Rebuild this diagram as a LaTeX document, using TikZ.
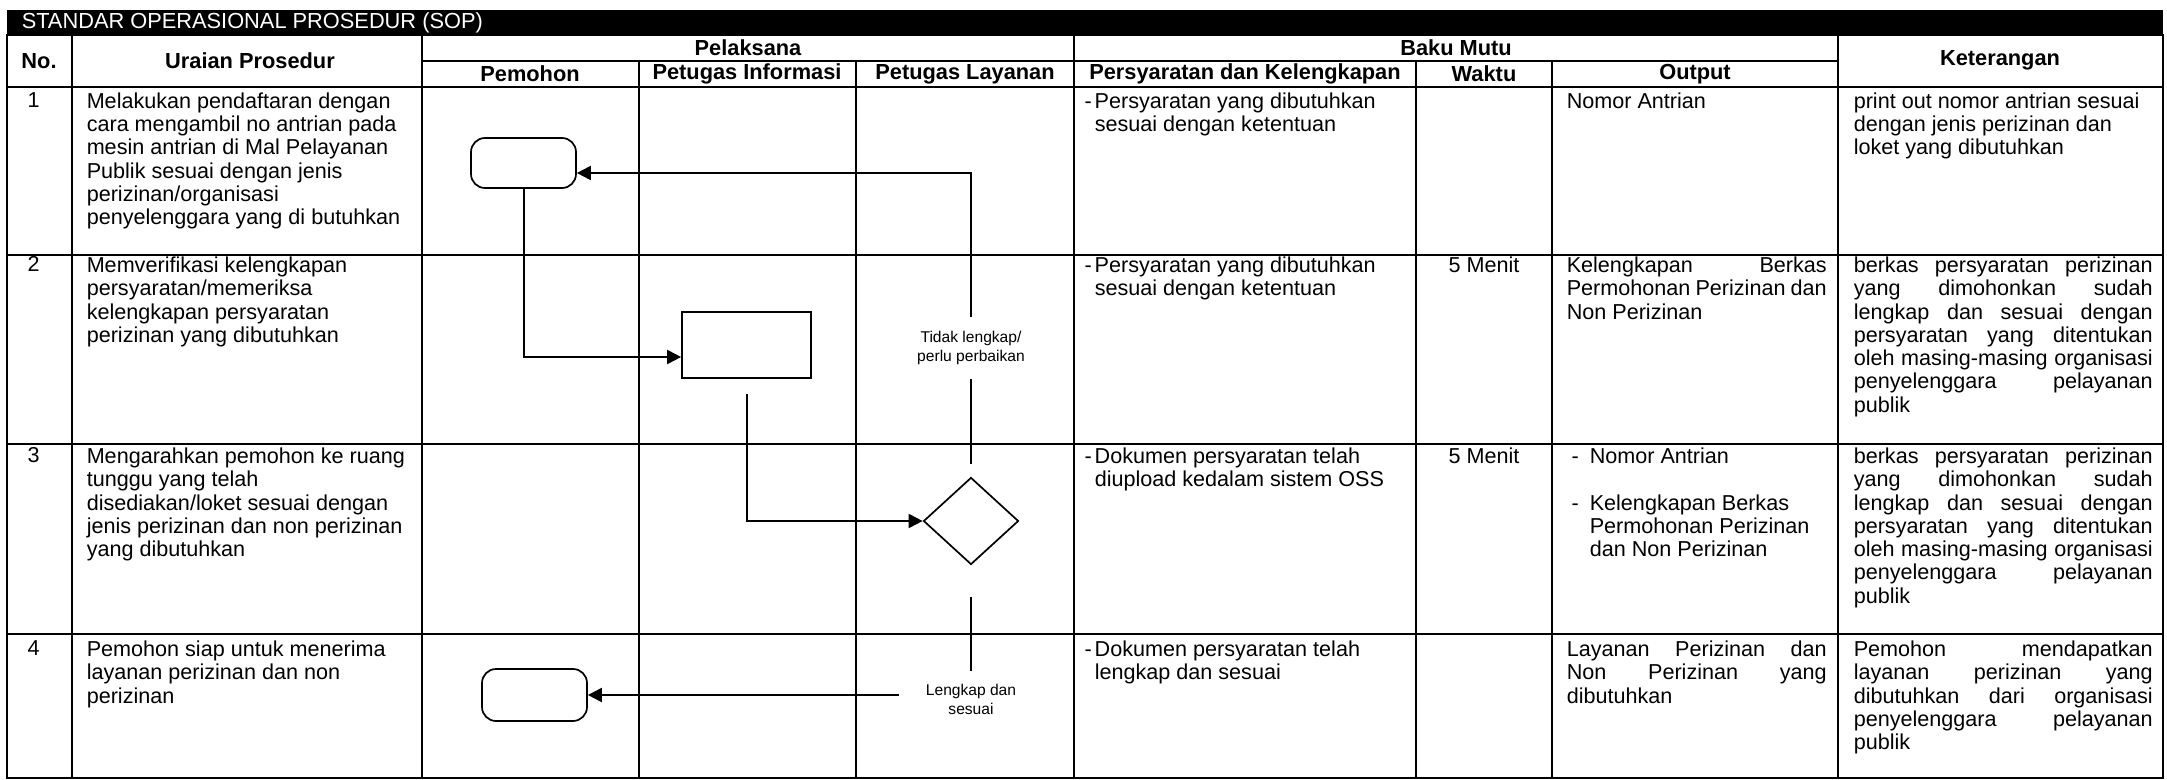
\documentclass[tikz,border=0pt]{standalone}
\usepackage{fontspec}
\setmainfont{Liberation Sans}
\usetikzlibrary{arrows.meta,shapes.geometric}

\newcommand{\cellfont}{\fontsize{10.8}{11.65}\selectfont}
\newcommand{\hdfont}{\fontsize{10.9}{12}\selectfont\bfseries}
\newcommand{\lblfont}{\fontsize{7.8}{9.5}\selectfont}
\newcommand{\jline}[2]{\makebox[#1][s]{#2}}

\tikzset{every picture/.style={line width=0.75pt}}

\begin{document}
\begin{tikzpicture}[x=0.5pt,y=0.5pt,yscale=-1,
  tbl/.style={line width=0.75pt},
  cell/.style={anchor=north west,inner sep=0pt,align=left,font=\cellfont},
  hd/.style={inner sep=0pt,font=\hdfont},
  lbl/.style={inner sep=3pt,align=center,font=\lblfont},
  startbox/.style={draw,line width=0.85pt,rounded corners=7pt,minimum width=52.5pt,minimum height=25pt,inner sep=0pt},
  actbox/.style={draw,line width=0.85pt,minimum width=64.5pt,minimum height=33pt,inner sep=0pt},
  decbox/.style={draw,line width=0.85pt,diamond,minimum width=47.5pt,minimum height=43.5pt,inner sep=0pt},
  flowln/.style={line width=1pt},
  flow/.style={line width=1pt,-{Triangle[length=7pt,width=7pt]}}]
\useasboundingbox (0,0) rectangle (2167,780);

%Title bar
\fill (7,10) rectangle (2163,35);
\node[anchor=west,inner sep=0pt,font=\fontsize{10.9}{12}\selectfont,text=white] (title) at (21,23) {STANDAR OPERASIONAL PROSEDUR (SOP)};

%Table lines
\draw[tbl] (7,35) rectangle (2163,778);
\draw[tbl] (7,87) -- (2163,87);
\draw[tbl] (7,255) -- (2163,255);
\draw[tbl] (7,444) -- (2163,444);
\draw[tbl] (7,634) -- (2163,634);
\draw[tbl] (422,61) -- (1838,61);
\draw[tbl] (72,35) -- (72,778);
\draw[tbl] (422,35) -- (422,778);
\draw[tbl] (639,61) -- (639,778);
\draw[tbl] (856,61) -- (856,778);
\draw[tbl] (1074,35) -- (1074,778);
\draw[tbl] (1416,61) -- (1416,778);
\draw[tbl] (1552,61) -- (1552,778);
\draw[tbl] (1838,35) -- (1838,778);

% Header
\node[hd] (hno) at (39,61) {No.};
\node[hd] (hur) at (250,61) {Uraian Prosedur};
\node[hd] (hpel) at (748,48) {Pelaksana};
\node[hd] (hbm) at (1456,48) {Baku Mutu};
\node[hd] (hpm) at (530,74) {Pemohon};
\node[hd] (hpi) at (747,74) {Petugas Informasi};
\node[hd] (hpl) at (965,74) {Petugas Layanan};
\node[hd] (hps) at (1245,74) {Persyaratan dan Kelengkapan};
\node[hd] (hwk) at (1484,74) {Waktu};
\node[hd] (hout) at (1695,74) {Output};
\node[hd] (hket) at (2000,60) {Keterangan};

% Row 1
\node[cell] (n1) at (27,92) {1};
\node[cell] (u1) at (86,92) {Melakukan pendaftaran dengan\\cara mengambil no antrian pada\\mesin antrian di Mal Pelayanan\\Publik sesuai dengan jenis\\perizinan/organisasi\\penyelenggara yang di butuhkan};
\node[cell] (p1) at (1094,92) {\llap{-\hspace{1.5pt}}Persyaratan yang dibutuhkan\\sesuai dengan ketentuan};
\node[cell] (o1) at (1566,92) {Nomor Antrian};
\node[cell] (k1) at (1853,92) {print out nomor antrian sesuai\\dengan jenis perizinan dan\\loket yang dibutuhkan};

% Row 2
\node[cell] (n2) at (27,256) {2};
\node[cell] (u2) at (86,256) {Memverifikasi kelengkapan\\persyaratan/memeriksa\\kelengkapan persyaratan\\perizinan yang dibutuhkan};
\node[cell] (p2) at (1094,256) {\llap{-\hspace{1.5pt}}Persyaratan yang dibutuhkan\\sesuai dengan ketentuan};
\node[cell,anchor=north] (w2) at (1484,256) {5 Menit};
\node[cell] (o2) at (1566,256) {\jline{130pt}{Kelengkapan Berkas}\\\jline{130pt}{Permohonan Perizinan dan}\\Non Perizinan};
\node[cell] (k2) at (1853,256) {\jline{149.5pt}{berkas persyaratan perizinan}\\\jline{149.5pt}{yang dimohonkan sudah}\\\jline{149.5pt}{lengkap dan sesuai dengan}\\\jline{149.5pt}{persyaratan yang ditentukan}\\\jline{149.5pt}{oleh masing-masing organisasi}\\\jline{149.5pt}{penyelenggara pelayanan}\\publik};

% Row 3
\node[cell] (n3) at (27,447) {3};
\node[cell] (u3) at (86,447) {Mengarahkan pemohon ke ruang\\tunggu yang telah\\disediakan/loket sesuai dengan\\jenis perizinan dan non perizinan\\yang dibutuhkan};
\node[cell] (p3) at (1094,447) {\llap{-\hspace{1.5pt}}Dokumen persyaratan telah\\diupload kedalam sistem OSS};
\node[cell,anchor=north] (w3) at (1484,447) {5 Menit};
\node[cell] (o3) at (1589,447) {\llap{-\hspace{5.5pt}}Nomor Antrian\\[11.65pt]\llap{-\hspace{5.5pt}}Kelengkapan Berkas\\Permohonan Perizinan\\dan Non Perizinan};
\node[cell] (k3) at (1853,447) {\jline{149.5pt}{berkas persyaratan perizinan}\\\jline{149.5pt}{yang dimohonkan sudah}\\\jline{149.5pt}{lengkap dan sesuai dengan}\\\jline{149.5pt}{persyaratan yang ditentukan}\\\jline{149.5pt}{oleh masing-masing organisasi}\\\jline{149.5pt}{penyelenggara pelayanan}\\publik};

% Row 4
\node[cell] (n4) at (27,640) {4};
\node[cell] (u4) at (86,640) {Pemohon siap untuk menerima\\layanan perizinan dan non\\perizinan};
\node[cell] (p4) at (1094,640) {\llap{-\hspace{1.5pt}}Dokumen persyaratan telah\\lengkap dan sesuai};
\node[cell] (o4) at (1566,640) {\jline{130pt}{Layanan Perizinan dan}\\\jline{130pt}{Non Perizinan yang}\\dibutuhkan};
\node[cell] (k4) at (1853,640) {\jline{149.5pt}{Pemohon mendapatkan}\\\jline{149.5pt}{layanan perizinan yang}\\\jline{149.5pt}{dibutuhkan dari organisasi}\\\jline{149.5pt}{penyelenggara pelayanan}\\publik};

%Flow shapes
\node[startbox] (start1) at (523.5,163) {};
\node[actbox] (proc) at (746.5,345) {};
\node[decbox] (dec) at (971,521) {};
\node[startbox,minimum height=26pt] (start2) at (534.5,695) {};

% Text Node
\node[lbl] (lbl1) at (971,348) {Tidak lengkap/\\perlu perbaikan};
\node[lbl] (lbl2) at (971,699) {Lengkap dan\\sesuai};

%Straight Lines
\draw[flow] (start1.south) |- ([yshift=6pt]proc.west);
\draw[flow,shorten <=7.5pt] (proc.south) |- (dec.west);
\draw[flowln,shorten <=6.5pt,shorten >=3.5pt] (dec.north) -- (lbl1.south);
\draw[flow,shorten <=3.5pt] (lbl1.north) |- ([yshift=5pt]start1.east);
\draw[flowln,shorten <=16pt,shorten >=3pt] (dec.south) -- (lbl2.north);
\draw[flow,shorten <=10pt] (lbl2.west |- start2.east) -- (start2.east);

\end{tikzpicture}
\end{document}
